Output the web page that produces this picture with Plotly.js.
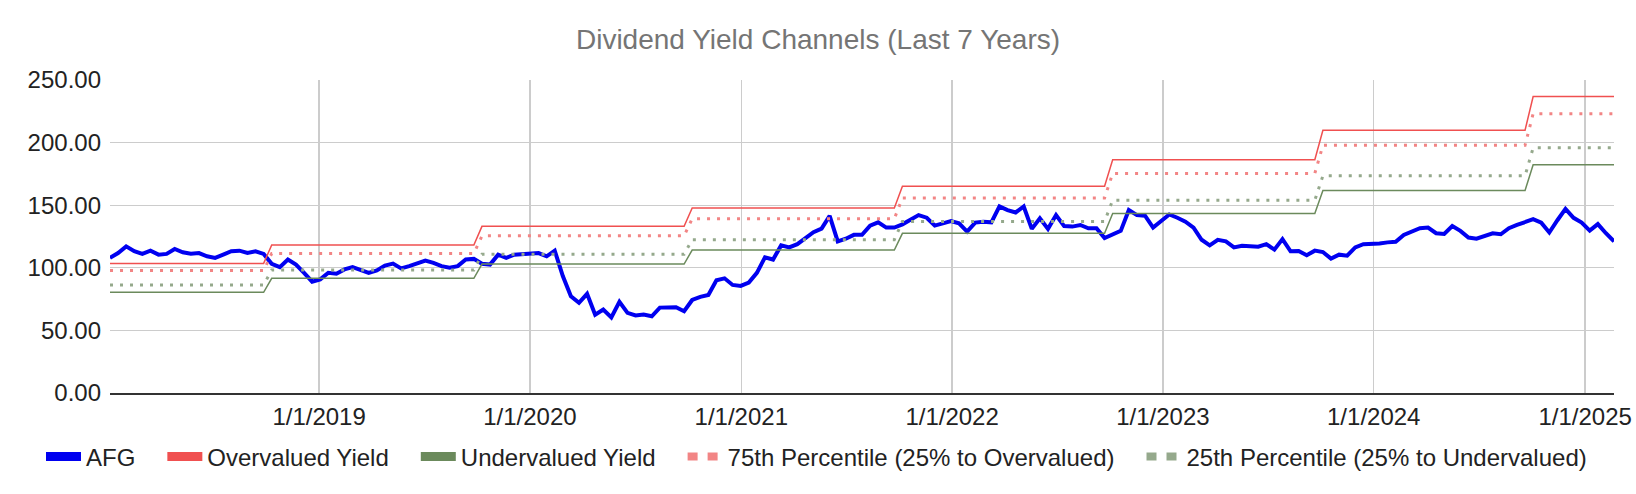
<!DOCTYPE html>
<html>
<head>
<meta charset="utf-8">
<script src="https://cdn.plot.ly/plotly-3.0.1.min.js"></script>
<style>
  html, body { margin: 0; padding: 0; background: #fff; }
  #graphDiv { width: 1636px; height: 494px; }
</style>
</head>
<body>
<div id="graphDiv"></div>
<script>
// AFG yield series, one point every two weeks from 2018-01-04
var firstDate = '2018-01-04';
var stepMs = 14 * 24 * 3600 * 1000;
var afgValues = [
    107.9, 111.8, 117.1, 113.2, 111.1, 113.7, 110.5, 111.1, 115.0, 112.4,
    111.3, 111.8, 109.2, 107.9, 110.5, 113.2, 113.7, 111.8, 113.2, 111.1,
    103.2, 100.5, 106.6, 102.6, 96.0, 88.9, 90.8, 96.0, 95.3, 98.7,
    100.5, 97.9, 96.0, 97.9, 101.8, 103.4, 99.5, 101.3, 103.2, 105.8,
    103.9, 101.3, 100.0, 101.3, 106.6, 107.1, 103.2, 102.6, 110.5, 107.9,
    110.5, 111.1, 111.1, 111.8, 109.2, 113.7, 93.4, 77.3, 72.0, 79.2,
    62.5, 66.7, 60.3, 72.9, 64.0, 61.9, 62.6, 61.3, 68.2, 68.5,
    68.5, 65.3, 74.3, 76.8, 78.3, 90.0, 91.6, 86.3, 85.5, 88.2,
    96.0, 108.4, 106.6, 117.9, 116.3, 118.9, 123.7, 128.4, 131.3, 141.5,
    121.1, 123.2, 126.3, 126.3, 133.7, 136.3, 132.1, 132.1, 134.7, 138.7,
    142.1, 140.0, 133.7, 135.5, 137.4, 135.5, 128.9, 136.1, 136.8, 136.3,
    149.0, 146.1, 144.2, 149.0, 131.1, 139.5, 131.1, 142.1, 133.3, 132.9,
    134.2, 131.6, 131.6, 123.7, 126.8, 129.5, 146.1, 142.1, 141.6, 132.1,
    137.4, 142.6, 140.0, 136.8, 132.1, 122.4, 117.9, 122.4, 121.1, 116.3,
    117.6, 117.1, 116.8, 118.9, 114.5, 122.9, 113.2, 113.5, 110.0, 113.7,
    112.6, 107.4, 110.5, 109.7, 116.3, 118.9, 118.9, 119.5, 120.3, 120.8,
    126.3, 128.9, 131.6, 132.1, 127.6, 127.1, 133.4, 129.5, 124.2, 123.2,
    125.8, 127.6, 126.8, 131.6, 134.2, 136.1, 138.8, 136.0, 128.2, 138.0,
    147.1, 139.9, 136.2, 129.7, 134.9, 127.6, 121.1
];

// yield channel levels, one per period
var periodStart = ['2018-01-04', '2018-10-11', '2019-10-10', '2020-10-08',
                   '2021-10-07', '2022-10-06', '2023-10-05', '2024-10-03'];
var periodEnd = ['2018-09-27', '2019-09-26', '2020-09-24', '2021-09-23',
                 '2022-09-22', '2023-09-21', '2024-09-19', '2025-02-20'];
var overYield = [103.5, 118.2, 133.1, 147.8, 165.2, 186.3, 209.9, 236.8];
var pct75Yield = [97.8, 111.5, 125.5, 139.2, 155.8, 175.4, 197.8, 223.1];
var pct25Yield = [86.3, 98.2, 110.8, 122.5, 137.0, 154.0, 173.5, 195.8];
var underYield = [80.4, 91.6, 103.0, 114.2, 127.5, 143.4, 161.7, 182.3];

var seriesNames = ['AFG', 'Overvalued Yield', 'Undervalued Yield',
                   '75th Percentile (25% to Overvalued)', '25th Percentile (25% to Undervalued)'];
var colors = ['#0000f0', '#f05050', '#6b8a5c', '#f28585', '#95a98c'];

var fontFamily = 'Arial, "Liberation Sans", sans-serif';

function stepLine(levels) {
    var xs = [], ys = [];
    for (var i = 0; i < levels.length; i++) {
        xs.push(periodStart[i], periodEnd[i]);
        ys.push(levels[i], levels[i]);
    }
    return {x: xs, y: ys};
}

function makeGraph() {
    var over = stepLine(overYield),
        under = stepLine(underYield),
        p75 = stepLine(pct75Yield),
        p25 = stepLine(pct25Yield);
    var data = [
        {type: 'scatter', mode: 'lines', x0: firstDate, dx: stepMs, y: afgValues,
         line: {color: colors[0], width: 4}, showlegend: false},
        {type: 'scatter', mode: 'lines', x: over.x, y: over.y,
         line: {color: colors[1], width: 1.5}, showlegend: false},
        {type: 'scatter', mode: 'lines', x: under.x, y: under.y,
         line: {color: colors[2], width: 1.5}, showlegend: false},
        {type: 'scatter', mode: 'lines', x: p75.x, y: p75.y,
         line: {color: colors[3], width: 3, dash: '3px,7px'}, showlegend: false},
        {type: 'scatter', mode: 'lines', x: p25.x, y: p25.y,
         line: {color: colors[4], width: 3, dash: '3px,7px'}, showlegend: false}
    ];
    // legend-only entries with the thick swatches of the original
    for (var k = 0; k < seriesNames.length; k++) {
        var dotted = (k >= 3);
        var label = seriesNames[k];
        if (k < seriesNames.length - 1) label += '\u00a0\u00a0\u00a0\u200a';
        data.push({
            type: 'scatter', mode: 'lines', x: [null], y: [null], name: label,
            line: {color: colors[k], width: dotted ? 8 : 9, dash: dotted ? '10px,10px' : 'solid'}
        });
    }
    var layout = {
        width: 1636,
        height: 494,
        margin: {l: 110, r: 22, t: 80, b: 101, pad: 0},
        paper_bgcolor: '#ffffff',
        plot_bgcolor: '#ffffff',
        font: {family: fontFamily, size: 24, color: '#222222'},
        title: {
            text: 'Dividend Yield Channels (Last 7 Years)',
            font: {family: fontFamily, size: 28, color: '#757575'},
            x: 0.5, xref: 'container', xanchor: 'center',
            y: 1 - 39 / 494, yref: 'container', yanchor: 'middle'
        },
        xaxis: {
            type: 'date',
            range: ['2018-01-04', '2025-02-20'],
            tick0: '2019-01-01',
            dtick: 'M12',
            tickformat: '%-m/%-d/%Y',
            showgrid: true,
            gridcolor: '#cccccc',
            gridwidth: 1.3,
            showline: true,
            linecolor: '#333333',
            linewidth: 2,
            ticks: '',
            ticklabelstandoff: 1,
            zeroline: false,
            tickfont: {size: 24, color: '#222222'}
        },
        yaxis: {
            range: [0, 250],
            tickvals: [0, 50, 100, 150, 200, 250],
            tickformat: '.2f',
            showgrid: true,
            gridcolor: '#cccccc',
            gridwidth: 1.3,
            zeroline: false,
            ticks: '',
            ticklabelstandoff: 8,
            tickfont: {size: 24, color: '#222222'}
        },
        showlegend: true,
        legend: {
            orientation: 'h',
            x: (41 - 110) / 1504,
            xanchor: 'left',
            y: -(457 - 393) / 313,
            yanchor: 'middle',
            font: {size: 24, color: '#222222'},
            itemwidth: 35,
            bgcolor: 'rgba(0,0,0,0)'
        }
    };
    Plotly.newPlot('graphDiv', data, layout, {staticPlot: true});
}

makeGraph();
</script>
</body>
</html>
